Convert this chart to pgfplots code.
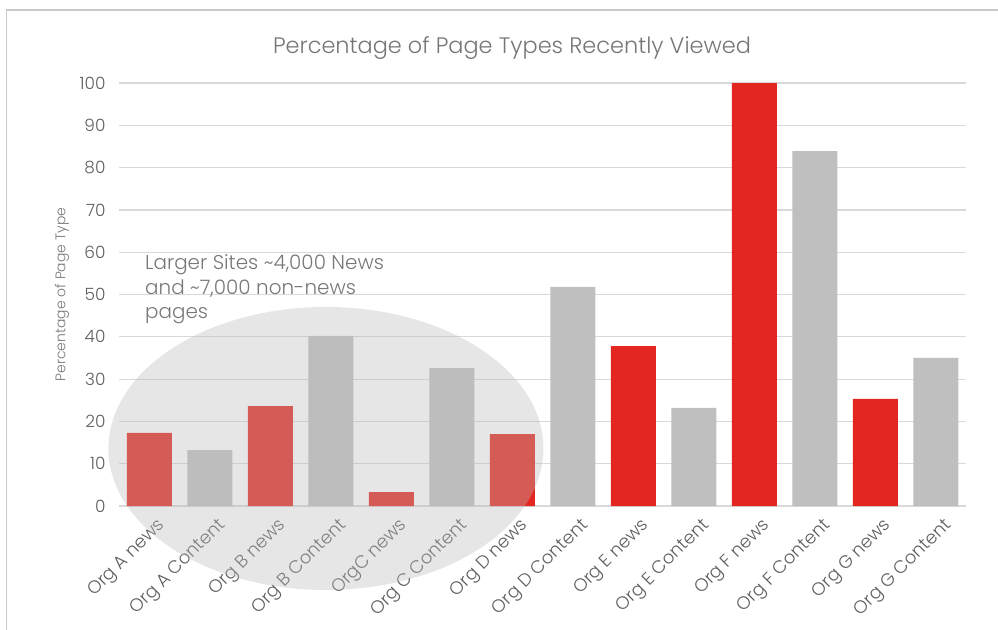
\documentclass[border=0pt]{standalone}
\usepackage{fontspec}
\setmainfont{Poppins Light}
\usepackage{pgfplots}
\pgfplotsset{compat=1.18}
\definecolor{newsred}{RGB}{227,38,31}
\definecolor{bargray}{RGB}{191,191,191}
\definecolor{gridgray}{RGB}{217,217,217}
\definecolor{tickgray}{RGB}{95,95,95}
\definecolor{titlegray}{RGB}{118,118,118}
\definecolor{annogray}{RGB}{120,120,120}
\definecolor{ellgray}{RGB}{186,186,186}
\definecolor{framegray}{RGB}{200,200,200}
\begin{document}
\begin{tikzpicture}[x=1bp,y=1bp]
\path[use as bounding box] (0,0) rectangle (998,-630);
\draw[framegray, line width=1.5bp] (6.5,-631) -- (6.5,-10) -- (998,-10);
\node[font=\fontsize{22.5}{26}\selectfont, text=titlegray] at (512,-48) {Percentage of Page Types Recently Viewed};
\begin{axis}[
  at={(119bp,-506bp)}, anchor=south west,
  width=847bp, height=423bp, scale only axis,
  xmin=-0.5, xmax=13.5, ymin=0, ymax=100,
  ytick={0,10,...,100},
  xtick={0,...,13},
  xticklabels={Org A news,Org A Content,Org B news,Org B Content,OrgC news,Org C Content,Org D news,Org D Content,Org E news,Org E Content,Org F news,Org F Content,Org G news,Org G Content},
  axis x line*=bottom, axis y line*=left,
  x axis line style={draw=gridgray, line width=1.2bp, -},
  y axis line style={draw=none},
  major tick length=0pt,
  ymajorgrids, grid style={draw=gridgray, line width=1.2bp},
  /pgf/number format/assume math mode=true,
  yticklabel style={font=\fontsize{17}{20}\selectfont, text=tickgray, anchor=east, xshift=-10bp},
  xticklabel style={font=\fontsize{18}{22}\selectfont, text=tickgray, rotate=45, anchor=north east, xshift=1bp, yshift=-9bp},
  ylabel={Percentage of Page Type},
  every axis y label/.style={at={(axis description cs:-0.0673,0.5)}, rotate=90, anchor=center, font=\fontsize{14}{17}\selectfont, text=annogray},
  clip=false,
]
\addplot[ybar, bar width=45bp, bar shift=0pt, fill=newsred, draw=none]
  coordinates {(0,17.3) (2,23.6) (4,3.3) (6,17.0) (8,37.8) (10,100) (12,25.3)};
\addplot[ybar, bar width=45bp, bar shift=0pt, fill=bargray, draw=none]
  coordinates {(1,13.2) (3,40.2) (5,32.6) (7,51.8) (9,23.2) (11,83.9) (13,35.0)};
\coordinate (ec) at (axis cs:2.92,13.6);
\end{axis}
\fill[ellgray, fill opacity=0.36] (ec) ellipse [x radius=217.5bp, y radius=141.5bp];
\node[anchor=north west, align=left, inner sep=0pt, font=\fontsize{20}{25}\selectfont, text=annogray] at (145,-254) {Larger Sites \textasciitilde4,000 News\\and \textasciitilde7,000 non-news\\pages};
\end{tikzpicture}
\end{document}
